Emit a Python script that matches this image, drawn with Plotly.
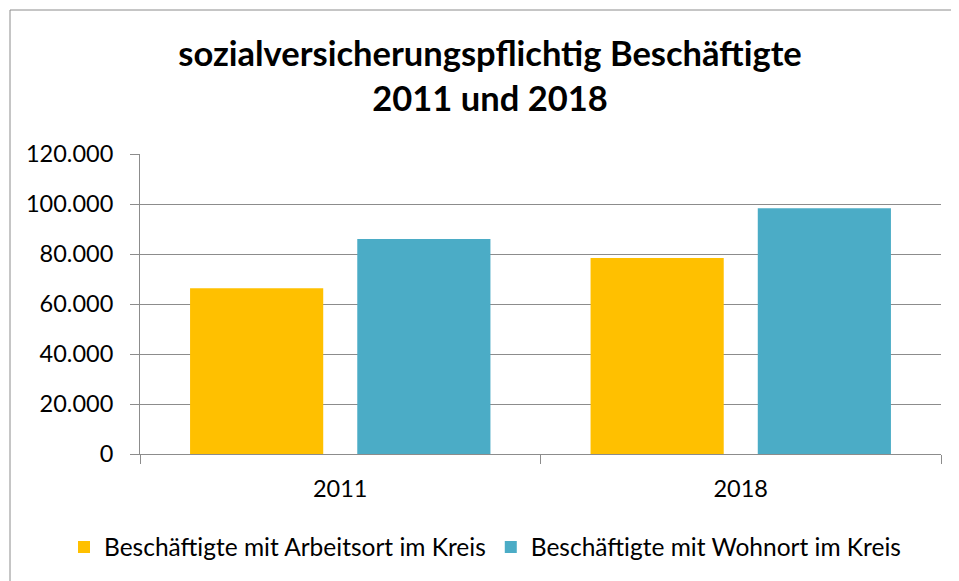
import plotly.graph_objects as go

categories = ["2011", "2018"]
series_names = ["Beschäftigte mit Arbeitsort im Kreis", "Beschäftigte mit Wohnort im Kreis"]
arbeitsort = [66300, 78400]
wohnort = [86000, 98300]
colors = ["#FFC000", "#4BACC6"]
y_ticks = [0, 20000, 40000, 60000, 80000, 100000, 120000]

OFF = 8  # page body margin
W, H = 959 - OFF, 581 - OFF
L, R, T, B = 140 - OFF, 941 - OFF, 154 - OFF, 454 - OFF
pw, ph = R - L, B - T

fig = go.Figure()
for name, vals, col in zip(series_names, [arbeitsort, wohnort], colors):
    fig.add_trace(go.Bar(x=categories, y=vals, name=name, marker=dict(color=col, line=dict(width=0))))

font = "Lato, 'Open Sans', sans-serif"
fig.update_layout(
    width=W, height=H, autosize=False,
    margin=dict(l=L, r=W - R, t=T, b=H - B, pad=0, autoexpand=False),
    paper_bgcolor="white", plot_bgcolor="white",
    separators=",.",
    barmode="group", bargap=0.165, bargroupgap=0.2036,
    font=dict(family=font, size=23.5, color="#000000"),
    title=dict(text="<b>sozialversicherungspflichtig Beschäftigte<br>2011 und 2018</b>",
               x=(490 - OFF) / W, xref="container", xanchor="center",
               y=1 - (66 - OFF) / H, yref="container", yanchor="middle",
               font=dict(family=font, size=34.5, color="#000000")),
    showlegend=True,
    legend=dict(orientation="h", x=(64 - 140) / 801, xref="paper", xanchor="left",
                y=(454 - 547) / 300, yref="paper", yanchor="middle",
                font=dict(family=font, size=24.5), traceorder="normal",
                bgcolor="rgba(0,0,0,0)"),
    xaxis=dict(showgrid=False, showline=True, linecolor="#8c8c8c", linewidth=1,
               ticks="outside", tickson="boundaries", ticklen=9, tickcolor="#8c8c8c",
               ticklabelstandoff=14, tickfont=dict(size=23.5)),
    yaxis=dict(range=[0, 120000], tickvals=y_ticks, tickformat=",d",
               showgrid=True, gridcolor="#8c8c8c", gridwidth=1,
               showline=True, linecolor="#8c8c8c", linewidth=1,
               ticks="outside", ticklen=9, tickcolor="#8c8c8c",
               ticklabelstandoff=12, zeroline=False, tickfont=dict(size=23.5)),
    shapes=[dict(type="rect", xref="paper", yref="paper",
                 x0=(10 - OFF - L) / pw, x1=(958 - OFF - L) / pw,
                 y0=(B - 600) / ph, y1=(B - (10 - OFF)) / ph,
                 line=dict(color="#8c8c8c", width=1), fillcolor="rgba(0,0,0,0)", layer="below")],
)

fig.write_html("out.html")
